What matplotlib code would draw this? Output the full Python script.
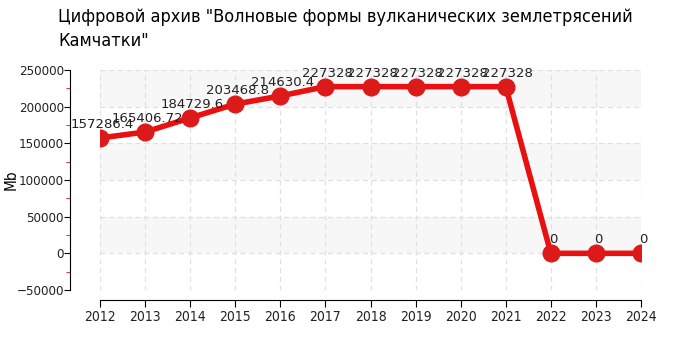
import matplotlib
matplotlib.use("Agg")
import matplotlib.pyplot as plt
from matplotlib import font_manager
from matplotlib.ticker import MultipleLocator

years = [2012, 2013, 2014, 2015, 2016, 2017, 2018, 2019, 2020, 2021, 2022, 2023, 2024]
values = [157286.4, 165406.72, 184729.6, 203468.8, 214630.4, 227328, 227328, 227328,
          227328, 227328, 0, 0, 0]
labels = ["157286.4", "165406.72", "184729.6", "203468.8", "214630.4", "227328", "227328",
          "227328", "227328", "227328", "0", "0", "0"]
title = 'Цифровой архив "Волновые формы вулканических землетрясений\nКамчатки"'

names = {f.name for f in font_manager.fontManager.ttflist}
fam = 'DejaVu Sans Condensed' if 'DejaVu Sans Condensed' in names else 'DejaVu Sans'
plt.rcParams['font.family'] = [fam]
plt.rcParams['font.stretch'] = 'condensed'

fig = plt.figure(figsize=(7, 3.5), dpi=100)
ax = fig.add_axes([100/700, 60/350, 541/700, 220/350])

ax.set_xlim(2012, 2024)
ax.set_ylim(-50000, 250000)

for lo in [0, 100000, 200000]:
    ax.axhspan(lo, lo + 50000, color='#f7f7f7', zorder=0, lw=0)

ax.yaxis.set_major_locator(MultipleLocator(50000))
ax.yaxis.set_minor_locator(MultipleLocator(25000))
ax.grid(True, which='major', color='#e0e0e0', linestyle=(0, (4, 3)), linewidth=0.9, zorder=1)

ax.plot(years, values, color='#e81010', linewidth=4, zorder=3)
ax.plot(years, values, 'o', color='#dd1a1a', markersize=12, zorder=4)

for x, y, t in zip(years, values, labels):
    ax.annotate(t, (x, y), xytext=(1.5, 5), textcoords='offset points', ha='center',
                va='bottom', fontsize=9.5, family='DejaVu Sans', fontstretch='normal',
                color='#222222', zorder=5)

for s in ['top', 'right']:
    ax.spines[s].set_visible(False)
ax.spines['left'].set_position(('outward', 21.6))
ax.spines['bottom'].set_position(('outward', 7.2))

ax.tick_params(axis='y', which='major', length=4, color='black', labelsize=9.5, labelcolor='#222222', pad=0.5)
ax.tick_params(axis='y', which='minor', length=3, color='red')
ax.tick_params(axis='x', which='major', length=5, labelsize=10, labelcolor='#222222', pad=2)
ax.set_xticks(years)
ax.set_xticklabels([str(y) for y in years])
ax.set_ylabel('Mb', fontsize=11)
ax.yaxis.set_label_coords((19 - 100) / 541, 0.5)

fig.text(58/700, 1 - 8/350, title, ha='left', va='top', fontsize=13, color='black', linespacing=1.45)

fig.savefig('out.png', dpi=100)
